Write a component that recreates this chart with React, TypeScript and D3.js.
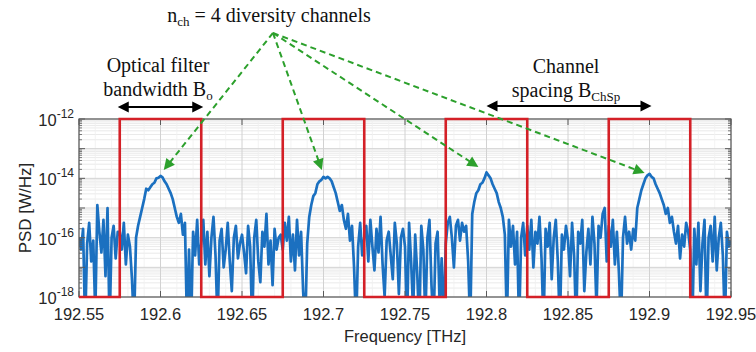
import React from "react";
import * as d3 from "d3";

// ---------- data ----------
const freqStart = 192.55;
const freqStep = 0.00125; // THz
// log10 of PSD [W/Hz] (values below 1e-18 go off-axis)
const psdLog: number[] = [
  // 192.55 - 192.575
  -16.0, -16.4, -15.7, -19.0, -16.2, -15.5, -16.8, -16.1, -18.6, -14.9, -15.8, -16.5, -15.4, -17.3, -15.0, -19.0, -16.0, -15.6, -16.7, -15.8,
  // 192.575 - 192.6
  -15.8, -16.4, -15.5, -16.9, -15.9, -16.3, -17.4, -19.0, -16.0, -15.6, -15.3, -15.0, -14.7, -14.35, -14.4, -14.3, -14.2, -14.15, -14.0, -13.98,
  // 192.6 - 192.625
  -13.92, -13.97, -14.1, -14.2, -14.35, -14.5, -14.7, -15.0, -15.3, -15.5, -15.2, -15.9, -15.5, -19.0, -16.4, -19.0, -15.8, -16.6, -15.4, -16.9,
  // 192.625 - 192.65
  -16.2, -15.4, -16.9, -15.8, -17.3, -16.0, -15.3, -16.6, -18.9, -16.1, -15.7, -17.0, -16.4, -15.5, -16.8, -17.8, -16.0, -15.6, -16.7, -16.2,
  // 192.65 - 192.675
  -15.9, -16.5, -17.2, -15.6, -16.3, -19.0, -16.0, -15.4, -16.8, -17.5, -15.8, -16.3, -15.2, -16.9, -16.1, -17.6, -15.7, -16.4, -16.0, -15.9,
  // 192.675 - 192.7
  -16.4, -15.5, -16.1, -15.3, -16.8, -15.9, -17.1, -15.4, -16.6, -15.8, -17.8, -19.0, -16.2, -15.3, -14.9, -14.6, -14.5, -14.2, -14.1, -14.05,
  // 192.7 - 192.725
  -13.95, -14.0, -13.95, -14.0, -14.1, -14.3, -14.5, -14.8, -15.1, -14.9, -15.4, -15.7, -15.2, -16.1, -15.6, -17.0, -19.0, -16.3, -15.5, -16.6,
  // 192.725 - 192.75
  -16.0, -15.6, -16.8, -15.4, -16.3, -17.1, -15.7, -16.5, -15.3, -16.9, -18.0, -16.1, -15.8, -16.6, -17.4, -15.5, -16.2, -17.9, -16.0, -15.7,
  // 192.75 - 192.775
  -16.3, -19.0, -15.5, -16.8, -18.5, -15.9, -17.2, -19.0, -15.6, -16.4, -18.8, -16.0, -15.4, -17.6, -19.0, -16.2, -15.8, -18.2, -16.7, -19.0,
  // 192.775 - 192.8
  -16.2, -15.5, -15.3, -16.0, -17.0, -15.6, -15.4, -16.1, -15.5, -15.8, -15.6, -16.8, -19.0, -15.2, -14.8, -14.5, -14.4, -14.2, -14.15, -14.0,
  // 192.8 - 192.825
  -13.8, -13.9, -14.0, -14.2, -14.35, -14.5, -14.8, -15.0, -15.3, -15.9, -19.0, -15.4, -16.3, -15.6, -16.9, -15.8, -19.0, -16.0, -15.5, -16.6,
  // 192.825 - 192.85
  -15.6, -16.4, -15.4, -17.0, -15.8, -16.2, -15.3, -16.7, -19.0, -15.7, -16.3, -15.5, -17.4, -16.0, -15.4, -16.8, -19.0, -15.9, -16.4, -15.6,
  // 192.85 - 192.875
  -16.1, -17.3, -15.5, -16.6, -19.0, -15.8, -16.2, -15.4, -17.8, -16.5, -15.7, -16.9, -15.3, -16.2, -18.4, -15.6, -16.0, -15.2, -15.0, -16.8,
  // 192.875 - 192.9
  -15.6, -16.3, -15.4, -16.9, -15.8, -17.2, -19.0, -16.0, -15.3, -16.2, -15.8, -16.4, -15.7, -16.1, -15.0, -14.7, -14.4, -14.2, -14.0, -13.9,
  // 192.9 - 192.925
  -13.85, -13.95, -14.0, -14.2, -14.35, -14.5, -14.7, -14.9, -15.2, -15.0, -15.5, -15.3, -15.8, -16.2, -15.6, -16.7, -15.9, -16.3, -15.5, -15.8,
  // 192.925 - 192.95
  -16.4, -19.0, -15.7, -16.9, -15.5, -17.8, -16.2, -15.4, -19.0, -16.0, -15.6, -16.8, -15.3, -17.1, -16.0, -15.5, -16.6, -19.0, -15.8, -16.3, -16.1,
];

const xTicks = [192.55, 192.6, 192.65, 192.7, 192.75, 192.8, 192.85, 192.9, 192.95];
const xTickLabels = ["192.55", "192.6", "192.65", "192.7", "192.75", "192.8", "192.85", "192.9", "192.95"];
const yTickExps = [-12, -14, -16, -18];

const filterStarts = [192.575, 192.675, 192.775, 192.875];
const filterBandwidth = 0.05;
const filterLow = 1e-18;
const filterHigh = 1e-12;

// green annotation arrows: origin and tips (freq, log10 PSD)
const annOrigin = { f: 192.669, lg: -9.1 };
const annTipF = [192.602, 192.699, 192.795, 192.897];
const annTipLg = [-13.72, -13.72, -13.62, -13.82];

// ---------- layout ----------
const W = 756, H = 352;
const L = 79, R = 731, T = 119, B = 297;

const x = d3.scaleLinear().domain([192.55, 192.95]).range([L, R]);
const y = d3.scaleLog().domain([1e-18, 1e-12]).range([B, T]);

function arrowHead(x1: number, y1: number, x2: number, y2: number, len: number, half: number) {
  const a = Math.atan2(y2 - y1, x2 - x1);
  const bx = x2 - len * Math.cos(a), by = y2 - len * Math.sin(a);
  const px = -Math.sin(a) * half, py = Math.cos(a) * half;
  return `M${x2},${y2}L${bx + px},${by + py}L${bx - px},${by - py}Z`;
}

export default function App() {
  const pts: [number, number][] = psdLog.map((v, i) => [freqStart + i * freqStep, Math.pow(10, v)]);
  const line = d3.line<[number, number]>().x((d) => x(d[0])).y((d) => y(d[1]));
  const trace = line(pts) || "";

  const filt: [number, number][] = [[192.55, filterLow]];
  filterStarts.forEach((s) => {
    filt.push([s, filterLow], [s, filterHigh], [s + filterBandwidth, filterHigh], [s + filterBandwidth, filterLow]);
  });
  filt.push([192.95, filterLow]);
  const filtPath = line(filt) || "";

  // minor log grid
  const minorY: number[] = [];
  for (let e = -18; e < -12; e++) for (let k = 2; k <= 9; k++) minorY.push(k * Math.pow(10, e));
  const majorY: number[] = [];
  for (let e = -18; e <= -12; e++) majorY.push(Math.pow(10, e));
  const minorX: number[] = d3.range(0, 41).map((i) => 192.55 + i * 0.01).filter((_, i) => i % 5 !== 0);

  const ox = x(annOrigin.f), oy = y(Math.pow(10, annOrigin.lg));
  const green = "#2ca02c";
  const axisCol = "#5a5a5a";

  const boA = x(filterStarts[0]), boB = x(filterStarts[0] + filterBandwidth);
  const csA = x(192.8), csB = x(192.9);
  const blackArrowY1 = 107, blackArrowY2 = 106;

  return (
    <svg width={W} height={H} style={{ position: "absolute", left: 0, top: 0, background: "#fff" }}>
      <defs>
        <clipPath id="plotclip">
          <rect x={L} y={T} width={R - L} height={B - T} />
        </clipPath>
      </defs>
      <rect x={L} y={T} width={R - L} height={B - T} fill="#fff" />
      {/* grid */}
      {minorY.map((v, i) => (
        <line key={"my" + i} x1={L} x2={R} y1={y(v)} y2={y(v)} stroke="#e4e4e4" strokeWidth={0.8} />
      ))}
      {minorX.map((v, i) => (
        <line key={"mx" + i} x1={x(v)} x2={x(v)} y1={T} y2={B} stroke="#f0f0f0" strokeWidth={0.8} />
      ))}
      {majorY.map((v, i) => (
        <line key={"My" + i} x1={L} x2={R} y1={y(v)} y2={y(v)} stroke="#d2d2d2" strokeWidth={1} />
      ))}
      {xTicks.map((v, i) => (
        <line key={"Mx" + i} x1={x(v)} x2={x(v)} y1={T} y2={B} stroke="#d2d2d2" strokeWidth={1} />
      ))}

      {/* trace */}
      <g clipPath="url(#plotclip)">
        <path d={trace} fill="none" stroke="#1b70c0" strokeWidth={2.7} strokeLinejoin="round" />
      </g>

      {/* axes box */}
      <rect x={L} y={T} width={R - L} height={B - T} fill="none" stroke={axisCol} strokeWidth={1.2} />
      {xTicks.map((v, i) => (
        <g key={"xt" + i}>
          <line x1={x(v)} x2={x(v)} y1={B} y2={B - 6} stroke={axisCol} />
          <line x1={x(v)} x2={x(v)} y1={T} y2={T + 6} stroke={axisCol} />
        </g>
      ))}
      {minorY.map((v, i) => (
        <g key={"ymt" + i}>
          <line x1={L} x2={L + 3} y1={y(v)} y2={y(v)} stroke={axisCol} strokeWidth={0.8} />
          <line x1={R} x2={R - 3} y1={y(v)} y2={y(v)} stroke={axisCol} strokeWidth={0.8} />
        </g>
      ))}
      {majorY.map((v, i) => (
        <g key={"yMt" + i}>
          <line x1={L} x2={L + 6} y1={y(v)} y2={y(v)} stroke={axisCol} />
          <line x1={R} x2={R - 6} y1={y(v)} y2={y(v)} stroke={axisCol} />
        </g>
      ))}

      {/* filters */}
      <path d={filtPath} fill="none" stroke="#d42027" strokeWidth={2.6} strokeLinejoin="miter" />

      {/* tick labels */}
      {xTicks.map((v, i) => (
        <text key={"xl" + i} x={x(v)} y={320} textAnchor="middle" fontFamily="'Liberation Sans', Arial, sans-serif" fontSize={16.5} fill="#262626">
          {xTickLabels[i]}
        </text>
      ))}
      {yTickExps.map((e, i) => (
        <text key={"yl" + i} x={74} y={y(Math.pow(10, e)) + 7} textAnchor="end" fontFamily="'Liberation Sans', Arial, sans-serif" fontSize={16.5} fill="#262626">
          10
          <tspan dy={-8} fontSize={12}>{`-${-e}`}</tspan>
        </text>
      ))}

      {/* axis labels */}
      <text x={(L + R) / 2} y={342} textAnchor="middle" fontFamily="'Liberation Sans', Arial, sans-serif" fontSize={16.5} fill="#262626">
        Frequency [THz]
      </text>
      <text transform={`translate(31,${(T + B) / 2}) rotate(-90)`} textAnchor="middle" fontFamily="'Liberation Sans', Arial, sans-serif" fontSize={17} fill="#262626">
        PSD [W/Hz]
      </text>

      {/* green annotation arrows */}
      {annTipF.map((f, i) => {
        const tx = x(f), ty = y(Math.pow(10, annTipLg[i]));
        const a = Math.atan2(ty - oy, tx - ox);
        const ex = tx - 9 * Math.cos(a), ey = ty - 9 * Math.sin(a);
        return (
          <g key={"ga" + i}>
            <line x1={ox} y1={oy} x2={ex} y2={ey} stroke={green} strokeWidth={2} strokeDasharray="6,4" />
            <path d={arrowHead(ox, oy, tx, ty, 11, 5.5)} fill={green} />
          </g>
        );
      })}

      {/* annotation texts */}
      <g fontFamily="'Liberation Serif', 'Times New Roman', serif" fill="#111">
        <text x={269} y={22} textAnchor="middle" fontSize={20}>
          n<tspan fontSize={13} dy={4}>ch</tspan>
          <tspan dy={-4}> = 4 diversity channels</tspan>
        </text>
        <text x={158} y={72} textAnchor="middle" fontSize={20}>Optical filter</text>
        <text x={158} y={96} textAnchor="middle" fontSize={20}>
          bandwidth B<tspan fontSize={13} dy={4}>o</tspan>
        </text>
        <text x={566} y={73} textAnchor="middle" fontSize={20}>Channel</text>
        <text x={566} y={97} textAnchor="middle" fontSize={20}>
          spacing B<tspan fontSize={13} dy={4}>ChSp</tspan>
        </text>
      </g>

      {/* black double arrows */}
      <line x1={boA + 8} x2={boB - 8} y1={blackArrowY1} y2={blackArrowY1} stroke="#000" strokeWidth={2} />
      <path d={arrowHead(boB, blackArrowY1, boA - 2, blackArrowY1, 11, 5.5)} fill="#000" />
      <path d={arrowHead(boA, blackArrowY1, boB + 2, blackArrowY1, 11, 5.5)} fill="#000" />
      <line x1={csA + 8} x2={csB - 8} y1={blackArrowY2} y2={blackArrowY2} stroke="#000" strokeWidth={2} />
      <path d={arrowHead(csB, blackArrowY2, csA, blackArrowY2, 11, 5.5)} fill="#000" />
      <path d={arrowHead(csA, blackArrowY2, csB + 2, blackArrowY2, 11, 5.5)} fill="#000" />
    </svg>
  );
}
